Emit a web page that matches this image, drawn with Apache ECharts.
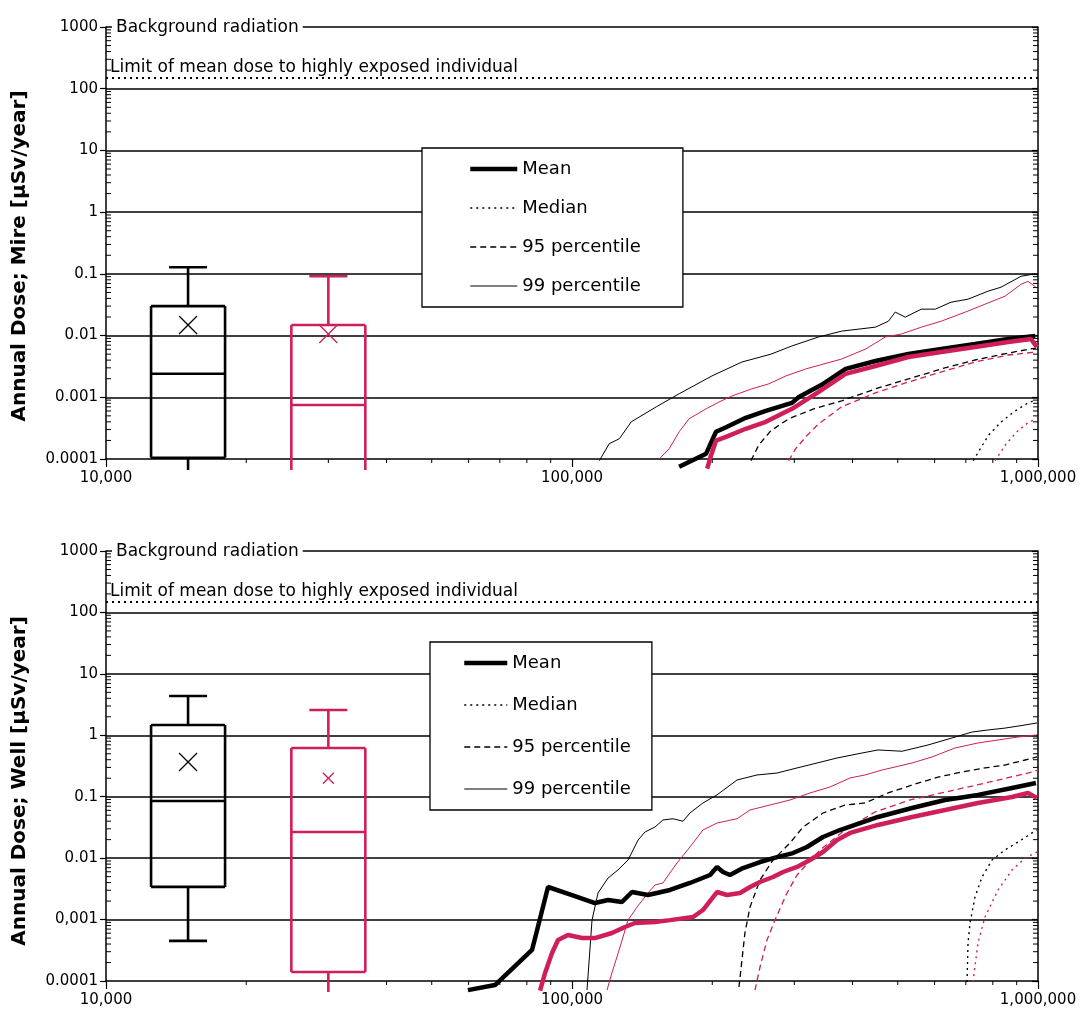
<!DOCTYPE html>
<html>
<head>
<meta charset="utf-8">
<title>Annual dose, Mire and Well</title>
<script src="https://cdn.jsdelivr.net/npm/echarts@6/dist/echarts.min.js"></script>
<style>
  html, body { margin: 0; padding: 0; background: #fff; }
  #chart { width: 1089px; height: 1019px; }
</style>
</head>
<body>
<div id="chart"></div>
<script>
// 刻度
var xTickValues = [10000, 100000, 1000000];
var xTickLabels = ['10,000', '100,000', '1,000,000'];
var yTickValues = [0.0001, 0.001, 0.01, 0.1, 1, 10, 100, 1000];
var yTickLabelsMire = ['0.0001', '0.001', '0.01', '0.1', '1', '10', '100', '1000'];
var yTickLabelsWell = ['0.0001', '0,001', '0.01', '0.1', '1', '10', '100', '1000'];

// reference levels [µSv/year]
var backgroundDose = 1000;
var doseLimit = 150;

// box plots: x position, then [low, q1, median, q3, high, mean]
var boxX = [15000, 30000];
var mireBoxBlack = [0.00005, 0.000105, 0.0024, 0.030, 0.128, 0.0148];
var mireBoxRed = [0.00001, 0.00003, 0.00075, 0.0148, 0.0914, 0.0106];
var wellBoxBlack = [0.00045, 0.0034, 0.085, 1.47, 4.36, 0.367];
var wellBoxRed = [0.00003, 0.00014, 0.0267, 0.62, 2.58, 0.20];

// Mire curves [time, dose]
var mireMeanBlack = [[169800,0.000075],[194000,0.000122],[203700,0.000276],[213000,0.000321],[236000,0.000465],[260600,0.000603],[296500,0.000812],[306800,0.00101],[343400,0.00159],[386500,0.00288],[448000,0.00387],[527000,0.00502],[620000,0.00605],[733000,0.00729],[863000,0.00877],[986000,0.00982]];
var mireMeanRed = [[195000,0.00007],[198700,0.000113],[203700,0.000198],[214000,0.000229],[236000,0.000309],[260600,0.000401],[296500,0.00065],[338400,0.00122],[386500,0.00239],[448000,0.00321],[527000,0.0045],[620000,0.00541],[733000,0.00652],[863000,0.00785],[966000,0.00877],[995000,0.0065]];
var mireMedianBlack = [[726000,0.000094],[781600,0.000238],[833700,0.0004],[893000,0.0006],[952000,0.00081],[990000,0.00091]];
var mireMedianRed = [[809000,0.000094],[854500,0.000177],[906000,0.000287],[952000,0.000386],[990000,0.000448]];
var mireP95Black = [[242100,0.000094],[251800,0.00017],[267200,0.000287],[291800,0.000448],[330200,0.00065],[379000,0.000875],[448000,0.00137],[527000,0.00198],[620000,0.00288],[733000,0.00402],[863000,0.00521],[990000,0.00628]];
var mireP95Red = [[291800,0.000094],[302000,0.000147],[319000,0.000238],[338400,0.000372],[379000,0.0007],[448000,0.00118],[527000,0.00177],[620000,0.00257],[733000,0.00373],[863000,0.00484],[990000,0.00541]];
var mireP99Black = [[114500,0.000094],[120200,0.000177],[126400,0.000213],[134000,0.0004],[151600,0.0007],[169800,0.00114],[199700,0.00222],[231600,0.00373],[267300,0.0050],[296500,0.0068],[338400,0.0095],[379000,0.0118],[448000,0.0137],[477500,0.0171],[494000,0.024],[519000,0.0199],[562000,0.0268],[602000,0.0268],[651000,0.0348],[708000,0.0389],[781000,0.0524],[833000,0.0608],[920000,0.0915],[986000,0.1]];
var mireP99Red = [[153900,0.0001],[161700,0.000147],[169800,0.000276],[178300,0.000448],[194000,0.00065],[206800,0.00084],[220500,0.00105],[243000,0.00137],[264500,0.00165],[287700,0.00222],[317500,0.00288],[379000,0.00417],[426600,0.00605],[470600,0.0095],[509000,0.0106],[562000,0.0137],[620000,0.0171],[698000,0.024],[770000,0.0323],[850000,0.0435],[920000,0.068],[952000,0.0755],[990000,0.061]];

// Well curves [time, dose]
var wellMeanBlack = [[59800,0.000071],[68350,0.000086],[82080,0.00032],[88830,0.00339],[100000,0.00251],[112000,0.00186],[119500,0.00208],[128000,0.00193],[134500,0.00281],[145600,0.00251],[162300,0.00303],[179100,0.00394],[197800,0.00532],[204700,0.00718],[210900,0.00595],[218300,0.00532],[232800,0.00691],[253200,0.00865],[275400,0.0104],[298000,0.0121],[319300,0.0152],[345600,0.0221],[375800,0.0287],[453600,0.0468],[536700,0.0655],[631600,0.0885],[743300,0.107],[879600,0.139],[990000,0.167]];
var wellMeanRed = [[85390,0.00007],[87530,0.000135],[90600,0.000286],[93330,0.000465],[98040,0.00056],[105100,0.0005],[112000,0.0005],[121800,0.000605],[129900,0.000757],[136500,0.00088],[150700,0.00091],[162300,0.00098],[181900,0.0011],[191000,0.00143],[204700,0.00281],[215100,0.00251],[229400,0.00271],[241000,0.00339],[253200,0.00409],[270000,0.00493],[283700,0.00595],[304000,0.00718],[324100,0.00933],[345600,0.0126],[370500,0.0197],[395100,0.0257],[453600,0.0347],[536700,0.0468],[631600,0.0608],[743300,0.0791],[879600,0.0989],[951700,0.115],[995000,0.095]];
var wellMedianBlack = [[704200,0.000096],[707700,0.000416],[714700,0.00088],[732500,0.00233],[758300,0.00493],[796800,0.00933],[849700,0.0136],[906000,0.0183],[970700,0.0257],[995000,0.0287]];
var wellMedianRed = [[725300,0.000096],[743300,0.000416],[769500,0.0011],[820800,0.00303],[879600,0.00641],[937800,0.01],[995000,0.0126]];
var wellP95Black = [[228200,0.00008],[231600,0.00022],[235000,0.000605],[241000,0.0016],[253200,0.00441],[270000,0.00933],[293700,0.0177],[313200,0.0321],[345600,0.0543],[385400,0.0733],[425500,0.0791],[476700,0.115],[536700,0.155],[610100,0.209],[687000,0.252],[769500,0.294],[849700,0.328],[937800,0.396],[995000,0.444]];
var wellP95Red = [[247000,0.000071],[253200,0.000169],[262100,0.000465],[272600,0.00098],[289300,0.00271],[304000,0.00532],[340600,0.0136],[385400,0.0287],[446900,0.0564],[531400,0.0885],[663500,0.129],[788900,0.174],[970700,0.252],[1000000,0.272]];
var wellP99Black = [[107700,0.000071],[110400,0.00098],[113700,0.00271],[119500,0.00475],[125500,0.00641],[131900,0.00933],[138600,0.0197],[143500,0.0267],[150700,0.0321],[156700,0.0418],[164700,0.0438],[173100,0.0399],[179100,0.0543],[191000,0.0791],[204700,0.107],[226000,0.187],[249500,0.226],[275400,0.243],[304000,0.294],[335700,0.354],[370500,0.427],[419300,0.515],[453600,0.577],[510800,0.55],[580700,0.695],[653800,0.904],[722000,1.13],[781000,1.22],[849700,1.31],[937800,1.47],[995000,1.59]];
var wellP99Red = [[118900,0.000071],[121800,0.000135],[126800,0.000358],[131900,0.00098],[137900,0.0016],[145600,0.00271],[150700,0.00366],[156700,0.00394],[168000,0.00834],[179100,0.0152],[191000,0.0287],[204700,0.0373],[226000,0.0438],[241000,0.0608],[266000,0.0733],[293700,0.0885],[324100,0.115],[357800,0.144],[395100,0.202],[425500,0.226],[462800,0.272],[536700,0.354],[592300,0.444],[663500,0.621],[743300,0.749],[820800,0.838],[906000,0.938],[995000,1.01]];

var X_MIN = 10000, X_MAX = 1000000, Y_MIN = 0.0001, Y_MAX = 1000;
var FONT = 'DejaVu Sans';
var RED = '#cf1f5a';

// 次刻度 2..9
var xMinorTicks = [], yMinorTicks = [];
[4, 5].forEach(function (k) {
    for (var m = 2; m <= 9; m++) xMinorTicks.push(m * Math.pow(10, k));
});
[-4, -3, -2, -1, 0, 1, 2].forEach(function (k) {
    for (var m = 2; m <= 9; m++) yMinorTicks.push(+(m * Math.pow(10, k)).toPrecision(3));
});

function tickLabel(values, labels) {
    return function (v) {
        for (var i = 0; i < values.length; i++) {
            if (Math.abs(Math.log10(v) - Math.log10(values[i])) < 0.01) return labels[i];
        }
        return '';
    };
}

function line(x1, y1, x2, y2, color, w) {
    return { type: 'line', shape: { x1: x1, y1: y1, x2: x2, y2: y2 }, style: { stroke: color, lineWidth: w } };
}

// box plot drawn through the axes
function boxSeries(gi, x, s, color, markSize) {
    return {
        type: 'custom', xAxisIndex: gi, yAxisIndex: gi * 2, silent: true, z: 3,
        data: [[x].concat(s)],
        encode: { x: 0, y: [1, 2, 3, 4, 5, 6] },
        renderItem: function (params, api) {
            var xv = api.value(0);
            var cx = api.coord([xv, Y_MIN])[0];
            var floorY = api.coord([xv, Y_MIN])[1] + 11;
            var raw = function (v) { return api.coord([xv, v])[1]; };
            var cy = function (v) { return Math.min(raw(v), floorY); };
            var half = 37, cap = 19, lw = 2.6;
            var low = api.value(1), q1 = api.value(2), med = api.value(3), q3 = api.value(4), high = api.value(5), mean = api.value(6);
            var yQ1 = cy(q1), yQ3 = cy(q3), yMed = cy(med), yHigh = cy(high), yLow = cy(low), yMean = raw(mean);
            var ch = [
                line(cx - half, yQ3, cx + half, yQ3, color, lw),
                line(cx - half, yQ3, cx - half, yQ1, color, lw),
                line(cx + half, yQ3, cx + half, yQ1, color, lw),
                line(cx - half, yMed, cx + half, yMed, color, lw),
                line(cx, yQ3, cx, yHigh, color, lw),
                line(cx - cap, yHigh, cx + cap, yHigh, color, lw),
                line(cx, yQ1, cx, yLow, color, lw)
            ];
            if (raw(q1) < floorY) ch.push(line(cx - half, yQ1, cx + half, yQ1, color, lw));
            if (raw(low) < floorY) ch.push(line(cx - cap, yLow, cx + cap, yLow, color, lw));
            var h = markSize / 2;
            ch.push(line(cx - h, yMean - h, cx + h, yMean + h, color, 1.3));
            ch.push(line(cx - h, yMean + h, cx + h, yMean - h, color, 1.3));
            return { type: 'group', children: ch };
        }
    };
}

function minorTickSeries(gi) {
    return [{
        type: 'custom', xAxisIndex: gi, yAxisIndex: gi * 2, silent: true,
        data: yMinorTicks.map(function (v) { return [X_MIN, v]; }),
        renderItem: function (params, api) {
            var v = api.value(1);
            var pl = api.coord([X_MIN, v]), pr = api.coord([X_MAX, v]);
            return { type: 'group', children: [
                line(pl[0], pl[1], pl[0] + 5, pl[1], '#000', 1),
                line(pr[0] - 5, pr[1], pr[0], pr[1], '#000', 1)
            ] };
        }
    }, {
        type: 'custom', xAxisIndex: gi, yAxisIndex: gi * 2, silent: true,
        data: xMinorTicks.map(function (v) { return [v, Y_MIN]; }),
        renderItem: function (params, api) {
            var p = api.coord([api.value(0), Y_MIN]);
            return line(p[0], p[1], p[0], p[1] + 4, '#000', 1);
        }
    }];
}

function curve(gi, name, data, color, width, type) {
    return {
        type: 'line', name: name, xAxisIndex: gi, yAxisIndex: gi * 2,
        data: data, symbol: 'none', clip: false, silent: true, z: 4,
        lineStyle: { color: color, width: width, type: type },
        itemStyle: { color: color, opacity: 0 }
    };
}

function refLines(gi) {
    return {
        type: 'line', name: 'reference', xAxisIndex: gi, yAxisIndex: gi * 2, data: [], silent: true,
        markLine: {
            symbol: ['none', 'none'], silent: true, animation: false,
            data: [{
                yAxis: backgroundDose,
                lineStyle: { color: '#000', width: 1.6, type: 'solid' },
                label: {
                    show: true, formatter: 'Background radiation', position: 'insideStartTop',
                    distance: [6, -10], backgroundColor: '#fff', padding: [1, 4, 1, 4],
                    color: '#000', fontFamily: FONT, fontSize: 17
                }
            }, {
                yAxis: doseLimit,
                lineStyle: { color: '#000', width: 2.2, type: [2, 4] },
                label: {
                    show: true, formatter: 'Limit of mean dose to highly exposed individual', position: 'insideStartTop',
                    distance: [4, 2], color: '#000', fontFamily: FONT, fontSize: 17
                }
            }]
        }
    };
}

function xAxis(gi) {
    return {
        type: 'log', logBase: 10, gridIndex: gi, min: X_MIN, max: X_MAX,
        axisLine: { show: true, lineStyle: { color: '#000', width: 1.5 } },
        axisTick: { show: true, length: 8, lineStyle: { color: '#000', width: 1.2 } },
        axisLabel: { color: '#000', fontFamily: FONT, fontSize: 15, margin: 12, formatter: tickLabel(xTickValues, xTickLabels) },
        splitLine: { show: false }, minorTick: { show: false }
    };
}

function yAxes(gi, name, labels, namePad) {
    return [{
        type: 'log', logBase: 10, gridIndex: gi, min: Y_MIN, max: Y_MAX, splitNumber: 7,
        name: name, nameLocation: 'middle', nameGap: 76, nameRotate: 90,
        nameTextStyle: { color: '#000', fontFamily: FONT, fontSize: 20, fontWeight: 'bold', padding: [0, namePad, 0, 0] },
        axisLine: { show: true, lineStyle: { color: '#000', width: 1.5 } },
        axisTick: { show: true, length: 6, lineStyle: { color: '#000', width: 1.2 } },
        axisLabel: { color: '#000', fontFamily: FONT, fontSize: 15, margin: 8, formatter: tickLabel(yTickValues, labels) },
        splitLine: { show: true, showMinLine: false, showMaxLine: false, lineStyle: { color: '#000', width: 1.6 } }
    }, {
        type: 'log', logBase: 10, gridIndex: gi, min: Y_MIN, max: Y_MAX, splitNumber: 7, position: 'right',
        axisLine: { show: true, lineStyle: { color: '#000', width: 1.5 } },
        axisTick: { show: true, inside: true, length: 6, lineStyle: { color: '#000', width: 1.2 } },
        axisLabel: { show: false }, splitLine: { show: false }
    }];
}

function legend(left, top, pad, itemWidth, gap) {
    return {
        left: left, top: top, orient: 'vertical', selectedMode: false,
        data: ['Mean', 'Median', '95 percentile', '99 percentile'],
        itemWidth: itemWidth, itemHeight: 18, itemGap: gap, padding: pad,
        itemStyle: { opacity: 0 },
        lineStyle: { width: 'inherit', type: 'inherit' },
        backgroundColor: '#fff', borderColor: '#000', borderWidth: 1.3, borderRadius: 0,
        textStyle: { color: '#000', fontFamily: FONT, fontSize: 18 }
    };
}

var myChart = echarts.init(document.getElementById('chart'), null, { renderer: 'canvas' });

var series = [];
[[mireMeanBlack, mireMeanRed, mireMedianBlack, mireMedianRed, mireP95Black, mireP95Red, mireP99Black, mireP99Red],
 [wellMeanBlack, wellMeanRed, wellMedianBlack, wellMedianRed, wellP95Black, wellP95Red, wellP99Black, wellP99Red]
].forEach(function (d, gi) {
    series.push(refLines(gi));
    series = series.concat(minorTickSeries(gi));
    series.push(curve(gi, '99 percentile', d[6], '#000', 1, 'solid'));
    series.push(curve(gi, '99 percentile (red)', d[7], RED, 1, 'solid'));
    series.push(curve(gi, '95 percentile', d[4], '#000', 1.3, [6, 4]));
    series.push(curve(gi, '95 percentile (red)', d[5], RED, 1.3, [6, 4]));
    series.push(curve(gi, 'Median', d[2], '#000', 1.4, [2, 4]));
    series.push(curve(gi, 'Median (red)', d[3], RED, 1.4, [2, 4]));
    series.push(curve(gi, 'Mean', d[0], '#000', 4.5, 'solid'));
    series.push(curve(gi, 'Mean (red)', d[1], RED, 4.5, 'solid'));
});
series.push(boxSeries(0, boxX[0], mireBoxBlack, '#000', 18));
series.push(boxSeries(0, boxX[1], mireBoxRed, RED, 18));
series.push(boxSeries(1, boxX[0], wellBoxBlack, '#000', 18));
series.push(boxSeries(1, boxX[1], wellBoxRed, RED, 11));

var option = {
    backgroundColor: '#fff',
    animation: false,
    grid: [
        { left: 106, right: 51, top: 27, height: 432 },
        { left: 106, right: 51, top: 551, height: 430 }
    ],
    legend: [
        legend(422, 148, [12, 42, 12, 46], 47, 21),
        legend(430, 642, [12, 21, 12, 32], 43, 24)
    ],
    xAxis: [xAxis(0), xAxis(1)],
    yAxis: yAxes(0, 'Annual Dose; Mire [µSv/year]', yTickLabelsMire, 26)
        .concat(yAxes(1, 'Annual Dose; Well [µSv/year]', yTickLabelsWell, 30)),
    series: series
};

if (option && typeof option === 'object') {
    myChart.setOption(option);
}
</script>
</body>
</html>
